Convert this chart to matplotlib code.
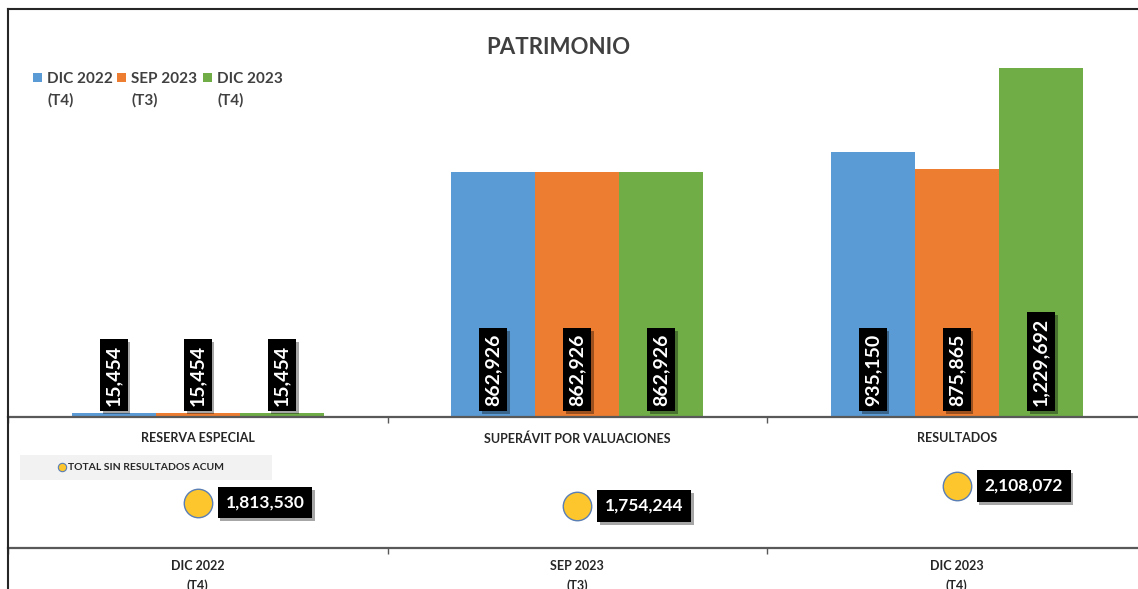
import numpy as np
import matplotlib
matplotlib.use('Agg')
import matplotlib.pyplot as plt
import matplotlib.patheffects as pe
from matplotlib.patches import Rectangle
from matplotlib.lines import Line2D

plt.rcParams['font.family'] = ['Lato', 'DejaVu Sans']

# data
categories = ['RESERVA ESPECIAL', 'SUPERÁVIT POR VALUACIONES', 'RESULTADOS']
series = ['DIC 2022\n(T4)', 'SEP 2023\n(T3)', 'DIC 2023\n(T4)']
dic2022 = [15454, 862926, 935150]
sep2023 = [15454, 862926, 875865]
dic2023 = [15454, 862926, 1229692]
periods = ['DIC 2022\n(T4)', 'SEP 2023\n(T3)', 'DIC 2023\n(T4)']
totals = [1813530, 1754244, 2108072]
total_label = 'TOTAL SIN RESULTADOS ACUM'

colors = ['#5B9BD5', '#ED7D31', '#70AD47']
dot_color = '#FCC62C'
W, H = 1138, 589

def fx(px):
    return px / W

def fy(py):
    return 1 - py / H

fig = plt.figure(figsize=(W / 100, H / 100), dpi=100)

# main bar axes
ax = fig.add_axes([fx(8), fy(417), 1138.5 / W, (417 - 20) / H])
x = np.arange(len(categories))
w = 0.2215
vals = [dic2022, sep2023, dic2023]
for i, (v, c) in enumerate(zip(vals, colors)):
    bars = ax.bar(x + (i - 1) * w, v, width=w, color=c, zorder=2)
    for b, val in zip(bars, v):
        t = ax.annotate(f'{val:,}', xy=(b.get_x() + b.get_width() / 2, 0),
                        xytext=(0, 8), textcoords='offset points',
                        rotation=90, ha='center', va='bottom',
                        color='white', fontsize=14, fontweight='bold',
                        bbox=dict(boxstyle='square,pad=0.28', fc='black', ec='none'),
                        zorder=5)
        t.get_bbox_patch().set_path_effects([pe.withSimplePatchShadow(offset=(2, -2), alpha=0.35)])

ax.set_xlim(-0.5, 2.5)
ax.set_ylim(0, 1400000)
ax.set_yticks([])
for s in ['top', 'right', 'left']:
    ax.spines[s].set_visible(False)
ax.spines['bottom'].set_color('#595959')
ax.spines['bottom'].set_linewidth(1.6)
ax.set_xticks([-0.5, 0.5, 1.5, 2.5])
ax.set_xticklabels([])
ax.tick_params(axis='x', which='major', length=4, width=1, color='#595959', direction='out')
ax.set_xticks(x, minor=True)
ax.set_xticklabels(categories, minor=True, fontsize=9, fontweight='bold', color='#262626')
ax.tick_params(axis='x', which='minor', length=0, pad=11)
ax.set_facecolor('none')

# totals axes
ax2 = fig.add_axes([fx(8), fy(548), 1138.5 / W, (548 - 417) / H])
s = 20 / (2108072 - 1754244)
y0 = 506 + 1754244 * s
ax2.set_ylim((y0 - 548) / s, (y0 - 417) / s)
ax2.set_xlim(-0.5, 2.5)
ax2.scatter(x, totals, s=420, color=dot_color, edgecolors='#5A7FB5', linewidths=1.0, zorder=3)
for xi, tv in zip(x, totals):
    t = ax2.annotate(f'{tv:,}', xy=(xi, tv), xytext=(20, 0), textcoords='offset points',
                     ha='left', va='center', color='white', fontsize=12.5, fontweight='bold',
                     bbox=dict(boxstyle='square,pad=0.45', fc='black', ec='none'), zorder=5)
    t.get_bbox_patch().set_path_effects([pe.withSimplePatchShadow(offset=(2, -2), alpha=0.35)])
ax2.set_yticks([])
for sp in ['top', 'right', 'left']:
    ax2.spines[sp].set_visible(False)
ax2.spines['bottom'].set_color('#595959')
ax2.spines['bottom'].set_linewidth(1.6)
ax2.set_xticks([-0.5, 0.5, 1.5, 2.5])
ax2.set_xticklabels([])
ax2.tick_params(axis='x', which='major', length=4, width=1, color='#595959', direction='out')
ax2.set_xticks(x, minor=True)
ax2.set_xticklabels(periods, minor=True, fontsize=9, fontweight='bold', color='#262626',
                    linespacing=1.6)
ax2.tick_params(axis='x', which='minor', length=0, pad=9)
ax2.set_facecolor('none')

# totals legend
fig.patches.append(Rectangle((fx(20), fy(480)), 252 / W, 25 / H, transform=fig.transFigure,
                             fc='#F2F2F2', ec='none', zorder=0))
fig.add_artist(Line2D([fx(62)], [fy(467)], marker='o', markersize=6, color=dot_color,
                      markeredgecolor='#5A7FB5', markeredgewidth=0.8, transform=fig.transFigure))
fig.text(fx(68), fy(467), total_label, fontsize=7.5, fontweight='bold', color='#262626',
         ha='left', va='center')

# series legend
leg_x = [33, 117, 203]
for lx, name, c in zip(leg_x, series, colors):
    fig.patches.append(Rectangle((fx(lx), fy(82)), 9 / W, 9 / H, transform=fig.transFigure,
                                 fc=c, ec='none'))
    fig.text(fx(lx + 14), fy(72), name, fontsize=11, fontweight='bold', color='#404040',
             ha='left', va='top', linespacing=1.6)

# title
fig.text(fx(558), fy(47), 'PATRIMONIO', fontsize=16, fontweight='bold', color='#404040',
         ha='center', va='center')

# chart border
fig.add_artist(Line2D([fx(8), fx(8)], [fy(9), 0], color='#262626', lw=1.5, transform=fig.transFigure))
fig.add_artist(Line2D([fx(8), 1], [fy(9), fy(9)], color='#262626', lw=1.5, transform=fig.transFigure))

fig.savefig('out.png', dpi=100)
